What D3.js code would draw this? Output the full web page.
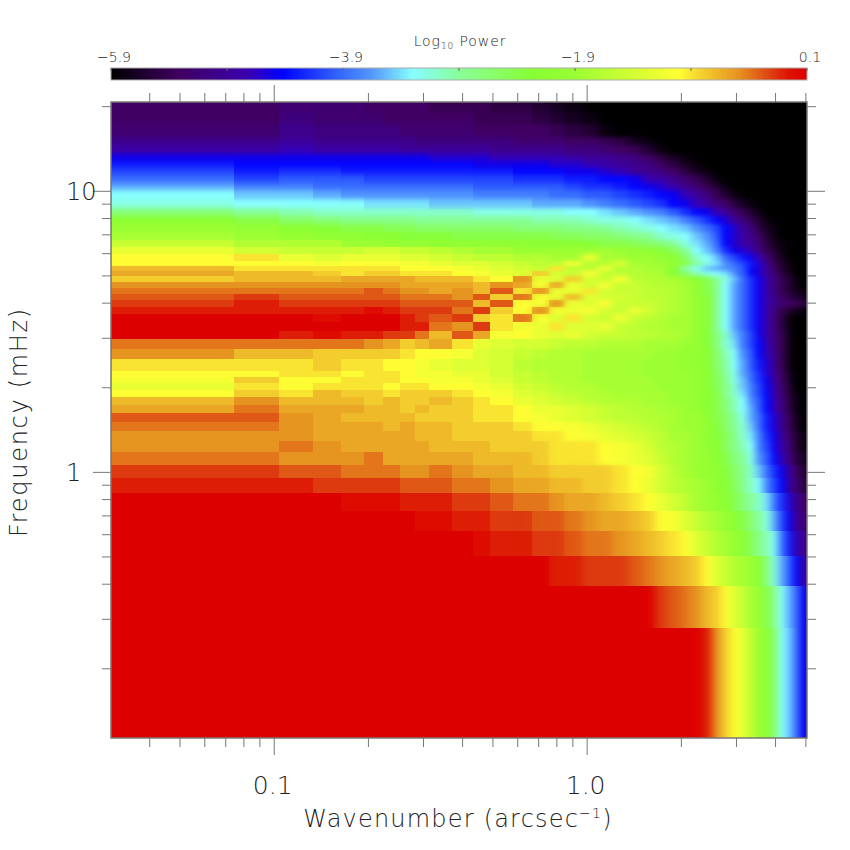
<!DOCTYPE html>
<html>
<head>
<meta charset="utf-8">
<script src="https://cdn.jsdelivr.net/npm/d3@7"></script>
<style>
    body { margin: 0; background: #fff; }
    text { font-family: "DejaVu Sans", sans-serif; font-weight: 200; fill: #222; }
    .tick line { stroke: #777; }
</style>
</head>
<body>
<svg id="chart" width="850" height="850"></svg>
<script>
// bin edges (low wavenumber bins are wide, high ones merged a bit)
const wavenumberEdges = [0.0302,0.0745,0.104,0.134,0.164,0.1937,0.2235,0.2533,0.283,0.313,0.3725,0.432,0.4917,0.581,0.6705,0.76,0.849,0.9685,1.088,1.207,1.356,1.505,1.654,1.803,1.982,2.16,2.339,2.518,2.697,2.876,3.05,3.25,3.456,3.665,3.874,4.08,4.32,4.56,4.8,5.06];
const frequencyEdges = [20.7,19,17.3,15.6,14.5,13.5,12.73,12.06,11.4,10.7,10.05,9.38,8.71,8.15,7.6,7.15,6.7,6.31,5.976,5.64,5.417,5.194,4.97,4.747,4.524,4.3,4.077,3.854,3.63,3.407,3.18,2.96,2.737,2.513,2.29,2.178,2.066,1.955,1.843,1.73,1.62,1.508,1.396,1.285,1.173,1.061,0.949,0.838,0.726,0.614,0.503,0.391,0.279,0.113];

// power per cell, in tenths of a dex above the bottom of the colour bar (0 = -5.9, 60 = 0.1)
// one row per frequency bin, top of the plot first
const powerLevels = [
[6,6,7,7,7,6,6,6,6,5,5,5,4,4,3,2,1,0,0,0,0,0,0,0,0,0,0,0,0,0,0,0,0,0,0,0,0,0,0],
[6,6,8,7,7,7,6,6,6,6,6,5,5,5,4,3,2,1,0,0,0,0,0,0,0,0,0,0,0,0,0,0,0,0,0,0,0,0,0],
[7,7,9,8,8,8,8,7,7,7,7,6,6,6,6,5,4,3,1,0,0,0,0,0,0,0,0,0,0,0,0,0,0,0,0,0,0,0,0],
[9,9,10,9,9,9,9,9,8,8,8,8,8,7,7,7,6,6,5,4,2,1,0,0,0,0,0,0,0,0,0,0,0,0,0,0,0,0,0],
[11,11,12,11,11,11,11,10,10,10,10,10,9,9,9,9,8,8,7,6,5,3,1,0,0,0,0,0,0,0,0,0,0,0,0,0,0,0,0],
[14,14,14,14,14,14,14,14,14,13,13,13,12,12,12,12,11,10,10,9,8,6,4,2,1,0,0,0,0,0,0,0,0,0,0,0,0,0,0],
[16,15,15,15,15,15,15,15,15,15,15,14,14,14,14,13,13,12,11,10,9,8,6,4,2,1,0,0,0,0,0,0,0,0,0,0,0,0,0],
[18,16,17,17,16,16,16,16,16,16,16,16,16,15,15,15,14,14,13,12,10,9,8,6,4,2,1,0,0,0,0,0,0,0,0,0,0,0,0],
[20,18,19,19,19,18,18,18,18,18,18,18,18,17,17,17,16,16,15,15,14,12,11,9,7,5,3,1,0,0,0,0,0,0,0,0,0,0,0],
[23,21,21,20,20,20,20,20,20,20,20,19,19,19,19,19,18,17,17,16,15,14,13,11,9,7,5,3,1,0,0,0,0,0,0,0,0,0,0],
[26,24,24,23,22,22,22,22,22,22,22,21,21,21,21,20,20,19,19,18,17,16,15,14,12,10,8,5,3,1,0,0,0,0,0,0,0,0,0],
[27,26,26,26,26,25,25,25,25,24,24,24,24,24,23,23,23,22,21,20,19,18,17,15,14,12,10,8,6,4,2,1,0,0,0,0,0,0,0],
[32,30,29,28,28,28,28,28,28,28,28,27,27,27,27,27,26,26,25,24,23,22,21,19,17,15,14,12,10,7,5,3,1,0,0,0,0,0,0],
[37,35,33,32,31,31,31,31,30,30,30,30,30,30,29,29,29,28,27,27,26,25,24,23,21,19,17,15,13,10,8,5,3,1,0,0,0,0,0],
[40,39,37,36,35,35,34,34,33,33,33,33,33,32,32,32,31,31,30,29,28,27,26,25,24,22,20,18,15,13,10,8,4,2,1,0,0,0,0],
[41,40,39,38,38,37,37,36,36,36,35,35,35,35,35,34,34,33,33,32,31,30,28,27,26,24,22,19,15,13,11,9,6,3,1,0,0,0,0],
[44,42,42,42,40,40,39,39,39,38,38,38,38,38,37,37,37,36,35,35,34,33,32,30,27,25,23,20,15,13,11,10,7,4,2,1,0,0,0],
[47,45,44,44,44,45,45,44,44,43,42,41,41,40,40,40,40,40,41,40,39,38,36,34,30,26,24,21,17,14,13,12,8,5,3,1,0,0,0],
[49,50,47,46,47,47,47,46,46,45,44,43,43,42,42,41,41,47,41,41,40,40,39,37,33,28,26,24,20,18,16,14,12,7,4,2,0,0,0],
[49,49,49,48,49,49,49,48,48,47,46,46,45,44,43,43,48,42,42,46,41,41,40,39,35,30,27,25,22,20,18,16,13,9,5,3,1,0,0],
[52,50,50,50,50,50,50,49,49,49,48,47,46,45,44,50,43,43,48,42,42,41,41,36,29,26,24,23,22,21,19,15,13,10,6,3,1,0,0],
[53,52,52,51,50,51,51,50,50,50,49,48,47,46,51,45,44,49,43,43,42,42,41,36,33,29,27,26,25,22,19,15,13,10,7,4,2,0,0],
[51,52,52,52,53,53,53,53,52,52,52,50,49,54,47,46,51,45,44,48,43,42,42,41,40,37,34,30,27,24,20,17,14,11,8,5,3,1,0],
[54,54,54,54,54,54,54,53,53,53,53,52,54,53,48,53,47,45,48,44,44,43,42,42,41,38,35,31,26,23,20,17,14,11,8,5,3,1,0],
[55,55,55,55,55,56,55,54,54,53,54,52,56,50,54,47,47,50,45,44,44,43,43,42,41,38,35,31,26,23,20,17,14,11,8,5,3,2,1],
[56,57,56,56,56,56,56,55,55,55,54,56,51,55,48,47,52,46,45,45,44,43,43,42,41,39,36,31,26,23,20,17,14,11,9,6,4,3,2],
[57,58,57,57,57,57,57,56,56,56,56,52,56,49,48,54,47,46,49,44,44,44,43,42,41,39,36,31,26,23,20,17,14,11,9,7,6,5,4],
[58,58,58,58,58,59,58,57,57,57,55,57,51,49,54,48,47,48,45,44,47,45,43,42,41,39,36,31,26,23,20,17,14,11,8,5,3,2,1],
[60,60,60,59,60,60,60,58,57,56,57,51,50,55,48,46,50,45,44,47,44,43,42,41,41,39,36,31,26,23,20,17,14,11,8,4,1,0,0],
[60,60,60,60,60,60,60,58,58,55,54,57,50,48,47,50,46,46,47,44,43,42,42,41,41,39,36,31,26,23,20,17,14,11,8,4,1,0,0],
[60,60,58,59,58,58,57,57,55,52,56,53,48,49,47,46,47,45,44,44,43,43,42,42,41,39,36,32,28,24,21,18,14,11,8,5,1,0,0],
[55,55,55,55,55,54,53,51,52,53,50,47,46,45,45,44,43,43,42,42,42,41,41,41,40,39,36,32,28,25,21,18,15,12,8,5,1,0,0],
[54,52,52,51,51,51,51,50,49,49,48,46,45,44,43,42,42,41,41,41,41,41,40,40,39,39,37,33,29,26,22,19,15,12,9,5,1,0,0],
[50,50,50,51,50,50,49,49,48,47,46,46,45,43,42,42,42,41,41,41,41,40,40,40,39,39,37,33,30,26,23,19,16,13,9,5,1,0,0],
[49,49,50,50,49,50,50,49,48,48,47,47,45,44,43,42,42,41,41,41,41,40,40,40,40,39,37,34,30,27,23,20,17,13,10,6,2,0,0],
[48,51,49,49,50,50,50,49,49,48,48,47,46,44,43,42,42,41,41,41,41,41,40,40,40,39,37,34,31,27,24,20,17,14,10,6,2,0,0],
[47,50,49,50,50,50,49,50,50,49,49,48,47,45,44,43,42,42,41,41,41,41,40,40,40,39,37,34,31,28,24,21,18,14,11,7,3,0,0],
[49,51,50,52,51,51,50,51,51,51,50,49,48,46,45,44,43,42,42,41,41,41,41,40,40,39,37,35,31,28,25,21,18,15,11,7,3,1,0],
[52,54,52,52,52,51,52,51,51,52,51,50,49,47,46,45,44,43,42,42,42,41,41,40,40,39,37,35,32,29,26,22,19,15,12,8,4,1,0],
[53,55,53,53,53,52,52,51,52,51,51,50,50,49,47,47,46,45,44,43,42,42,41,41,40,39,37,35,32,29,26,23,19,15,12,8,4,1,0],
[56,56,54,53,52,52,52,52,51,51,51,50,50,49,48,47,46,45,44,43,43,42,42,41,40,40,38,35,33,30,27,23,20,16,13,9,5,2,0],
[55,55,54,53,53,53,52,53,52,52,51,51,51,50,49,49,48,47,46,45,44,43,42,41,40,40,38,36,33,30,28,24,20,16,13,9,5,2,0],
[54,54,54,53,53,53,53,53,52,52,51,51,51,51,50,50,49,48,47,46,45,44,43,41,41,40,38,36,34,31,28,25,21,17,14,10,6,3,1],
[54,54,55,54,53,53,53,53,53,52,52,52,51,51,51,50,50,50,49,48,47,45,43,42,41,40,38,37,34,31,29,26,21,18,14,11,7,3,1],
[55,55,54,54,54,55,53,53,53,53,53,52,52,52,51,50,50,50,49,48,47,46,44,42,41,40,39,37,35,32,30,27,22,19,15,12,8,4,2],
[57,57,56,56,55,55,55,54,54,55,54,53,53,52,52,51,51,51,51,50,49,48,45,43,41,40,39,38,36,33,31,28,24,20,17,14,10,6,3],
[58,58,58,57,57,57,57,56,56,56,55,55,54,53,53,52,52,51,51,50,49,47,45,43,42,41,40,38,36,34,31,28,26,21,18,15,10,7,4],
[60,60,60,60,59,59,59,58,58,58,57,57,56,55,55,54,53,53,52,51,50,49,47,45,43,41,40,39,37,35,32,30,28,25,20,17,13,9,6],
[60,60,60,60,60,60,60,60,59,59,58,58,57,57,56,56,55,54,53,53,52,51,49,48,46,44,42,41,39,37,35,32,30,27,23,18,14,10,7],
[60,60,60,60,60,60,60,60,60,60,60,59,58,58,57,57,56,55,55,54,53,52,51,50,49,46,44,42,41,39,37,34,31,29,26,20,16,12,9],
[60,60,60,60,60,60,60,60,60,60,60,60,60,60,60,58,58,57,57,57,56,55,54,53,52,51,49,46,44,42,41,40,36,32,27,23,19,15,11],
[60,60,60,60,60,60,60,60,60,60,60,60,60,60,60,60,60,60,60,60,60,60,57,56,55,54,52,51,49,46,44,41,39,35,31,26,23,20,14],
[60,60,60,60,60,60,60,60,60,60,60,60,60,60,60,60,60,60,60,60,60,60,60,60,60,60,58,54,51,49,47,43,40,37,33,26,24,20,14]
];

// colour bar, read as level -> colour
const colorLevels = [0,5.8,11.8,14.7,19.6,22.5,26,30,36.3,39.8,48.9,50.6,54,57,58.4,60];
const colorValues = ['#000000','#400060','#3a00b0','#0000ff','#3366ff','#5599ff','#88ffff','#88ff99','#88ff33','#99ff33','#ffff33','#f5d530','#e69420','#dd3a10','#dd1100','#dd0000'];
const barTicks = [-5.9,-4.9,-3.9,-2.9,-1.9,-0.9,0.1];
const barLabels = [-5.9,-3.9,-1.9,0.1];

const xMajor = [0.1,1];
const xMinor = [0.04,0.05,0.06,0.07,0.08,0.09,0.2,0.3,0.4,0.5,0.6,0.7,0.8,0.9,2,3,4,5];
const yMajor = [1,10];
const yMinor = [0.2,0.3,0.4,0.5,0.6,0.7,0.8,0.9,2,3,4,5,6,7,8,9,20];

const margin = { left: 111, right: 807, top: 102, bottom: 738 };
const svg = d3.select('#chart');
const defs = svg.append('defs');

const x = d3.scaleLog().domain([0.0302, 5.06]).range([margin.left, margin.right]);
const y = d3.scaleLog().domain([0.113, 20.7]).range([margin.bottom, margin.top]);
const color = d3.scaleLinear().domain(colorLevels).range(colorValues);

// heat map, kept in defs so the softened layers below can reuse it
const cells = [];
powerLevels.forEach((row, r) => row.forEach((level, c) => cells.push({ r, c, level })));

defs.append('g')
    .attr('id', 'cells')
    .attr('shape-rendering', 'crispEdges')
    .selectAll('rect')
    .data(cells)
    .enter()
    .append('rect')
    .attr('x', d => x(wavenumberEdges[d.c]))
    .attr('y', d => y(frequencyEdges[d.r]))
    .attr('width', d => x(wavenumberEdges[d.c + 1]) - x(wavenumberEdges[d.c]))
    .attr('height', d => y(frequencyEdges[d.r + 1]) - y(frequencyEdges[d.r]))
    .attr('fill', d => color(d.level));

function addBlur(id, deviation) {
    defs.append('filter')
        .attr('id', id)
        .attr('filterUnits', 'userSpaceOnUse')
        .attr('x', margin.left).attr('y', margin.top)
        .attr('width', margin.right - margin.left).attr('height', margin.bottom - margin.top)
        .attr('color-interpolation-filters', 'sRGB')
        .append('feGaussianBlur')
        .attr('stdDeviation', deviation);
}

function addFadeMask(id, x1, y1, x2, y2) {
    const gradient = defs.append('linearGradient')
        .attr('id', id + 'Fade')
        .attr('gradientUnits', 'userSpaceOnUse')
        .attr('x1', x1).attr('y1', y1).attr('x2', x2).attr('y2', y2);
    gradient.append('stop').attr('offset', 0).attr('stop-color', '#000');
    gradient.append('stop').attr('offset', 1).attr('stop-color', '#fff');
    defs.append('mask')
        .attr('id', id)
        .attr('maskUnits', 'userSpaceOnUse')
        .attr('x', 0).attr('y', 0).attr('width', 850).attr('height', 850)
        .append('rect')
        .attr('width', 850).attr('height', 850)
        .attr('fill', `url(#${id}Fade)`);
}

addBlur('blurAcross', '4 0');
addBlur('blurDown', '0 2.5');
addBlur('blurBoth', '3.5 2');
addFadeMask('rightFade', 510, 0, 590, 0);
addFadeMask('topFade', 0, 250, 0, 225);
addFadeMask('upperFade', 0, 490, 0, 450);

svg.append('use').attr('href', '#cells');

// original bins get narrow towards the high end, so the merged cells are softened there
svg.append('g').attr('mask', 'url(#rightFade)')
    .append('use').attr('href', '#cells').attr('filter', 'url(#blurAcross)');
svg.append('g').attr('mask', 'url(#topFade)')
    .append('use').attr('href', '#cells').attr('filter', 'url(#blurDown)');
svg.append('g').attr('mask', 'url(#rightFade)')
    .append('g').attr('mask', 'url(#upperFade)')
    .append('use').attr('href', '#cells').attr('filter', 'url(#blurBoth)');

svg.append('rect')
    .attr('x', margin.left).attr('y', margin.top)
    .attr('width', margin.right - margin.left).attr('height', margin.bottom - margin.top)
    .attr('fill', 'none').attr('stroke', '#777').attr('stroke-width', 1.5);

// axes, minor and major ticks go in separate calls
function addAxis(axisFn, scale, values, size, translate) {
    const g = svg.append('g')
        .attr('transform', translate)
        .call(axisFn(scale).tickValues(values).tickSize(size).tickFormat(''));
    g.select('.domain').remove();
    return g;
}

addAxis(d3.axisBottom, x, xMinor, 9, `translate(0,${margin.bottom})`);
addAxis(d3.axisBottom, x, xMajor, 17, `translate(0,${margin.bottom})`);
addAxis(d3.axisTop, x, xMinor, 9, `translate(0,${margin.top})`);
addAxis(d3.axisTop, x, xMajor, 17, `translate(0,${margin.top})`);
addAxis(d3.axisLeft, y, yMinor, 9, `translate(${margin.left},0)`);
addAxis(d3.axisLeft, y, yMajor, 18, `translate(${margin.left},0)`);
addAxis(d3.axisRight, y, yMinor, 9, `translate(${margin.right},0)`);
addAxis(d3.axisRight, y, yMajor, 18, `translate(${margin.right},0)`);

svg.selectAll('.xlabel')
    .data(xMajor)
    .enter()
    .append('text')
    .attr('x', d => x(d) - 1)
    .attr('y', 794)
    .attr('text-anchor', 'middle')
    .attr('font-size', 25)
    .text(d => d3.format('.1f')(d));

svg.selectAll('.ylabel')
    .data(yMajor)
    .enter()
    .append('text')
    .attr('x', 66)
    .attr('y', d => y(d) + 9)
    .attr('font-size', 24)
    .text(d => d);

const xTitle = svg.append('text')
    .attr('x', 458).attr('y', 827)
    .attr('text-anchor', 'middle')
    .attr('font-size', 24)
    .attr('letter-spacing', 1.2)
    .text('Wavenumber (arcsec');
xTitle.append('tspan').attr('dy', -9).attr('font-size', 14).text('\u22121');
xTitle.append('tspan').attr('dy', 9).text(')');

svg.append('text')
    .attr('transform', 'translate(27,422) rotate(-90)')
    .attr('text-anchor', 'middle')
    .attr('font-size', 24)
    .attr('letter-spacing', 1.7)
    .text('Frequency (mHz)');

// colour bar on top
const barScale = d3.scaleLinear().domain([-5.9, 0.1]).range([margin.left, margin.right]);
const barSteps = d3.range(0, 60, 0.1);

svg.append('g')
    .attr('shape-rendering', 'crispEdges')
    .selectAll('rect')
    .data(barSteps)
    .enter()
    .append('rect')
    .attr('x', d => barScale(-5.9 + d / 10))
    .attr('y', 68)
    .attr('width', 1.4)
    .attr('height', 12)
    .attr('fill', d => color(d));

svg.append('rect')
    .attr('x', margin.left).attr('y', 68)
    .attr('width', margin.right - margin.left).attr('height', 12)
    .attr('fill', 'none').attr('stroke', '#aaa');

svg.append('g')
    .selectAll('line')
    .data(barTicks)
    .enter()
    .append('line')
    .attr('x1', d => barScale(d)).attr('x2', d => barScale(d))
    .attr('y1', 68).attr('y2', 71)
    .attr('stroke', '#666');

svg.selectAll('.barlabel')
    .data(barLabels)
    .enter()
    .append('text')
    .attr('x', d => barScale(d) + 3)
    .attr('y', 62)
    .attr('text-anchor', 'middle')
    .attr('font-size', 14)
    .text(d => d3.format('.1f')(d).replace('-', '\u2212'));

const barTitle = svg.append('text')
    .attr('x', 460).attr('y', 46)
    .attr('text-anchor', 'middle')
    .attr('font-size', 14)
    .attr('letter-spacing', 0.9)
    .text('Log');
barTitle.append('tspan').attr('dy', 3).attr('font-size', 9).text('10');
barTitle.append('tspan').attr('dy', -3).text(' Power');
</script>
</body>
</html>
